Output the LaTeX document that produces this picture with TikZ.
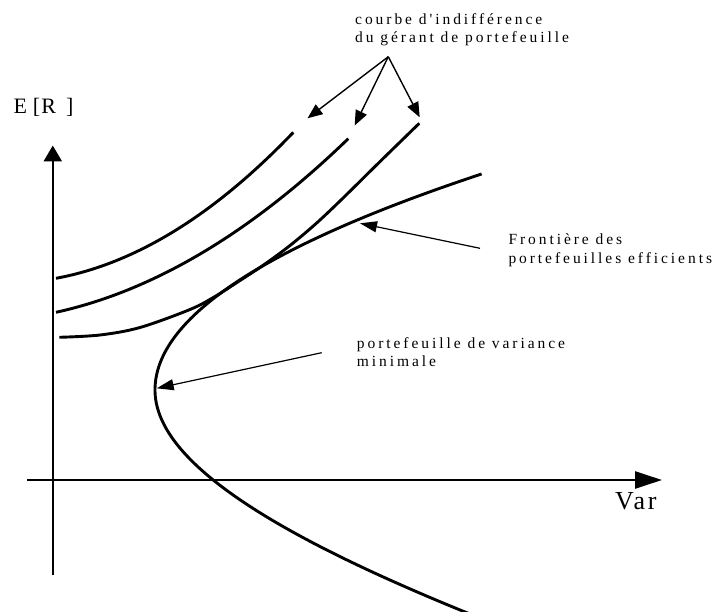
\documentclass[tikz,border=0pt]{standalone}
\usepackage{fontspec}
\setmainfont{Liberation Serif}
\newfontfamily\annfont[LetterSpace=19]{Liberation Serif}
\newfontfamily\varfont[LetterSpace=10]{Liberation Serif}
\usetikzlibrary{arrows.meta}
\tikzset{
  curve/.style={line width=2.9pt, line join=round},
  axisline/.style={line width=2.6pt},
  ann/.style={line width=1.2pt, -{Triangle[length=17pt,width=11pt]}},
  annTop/.style={line width=1.4pt, -{Triangle[length=15pt,width=12pt]}},
  anntext/.style={font=\annfont\fontsize{15.5}{18.7}\selectfont, align=left, inner sep=0pt, anchor=base west},
}
\begin{document}
\begin{tikzpicture}[x=1pt,y=-1pt]
\useasboundingbox (0,0) rectangle (715,612);
% axes
\coordinate (yo) at (52.8,575);
\coordinate (ytip) at (52.8,145.5);
\coordinate (xo) at (27,480);
\coordinate (xtip) at (662,480);
\draw[axisline, -{Triangle[length=16pt,width=18pt]}] (yo) -- (ytip);
\draw[axisline, -{Triangle[length=27pt,width=17pt]}] (xo) -- (xtip);
\node[inner sep=0pt, anchor=base west, font=\fontsize{22}{26}\selectfont] (ylbl) at (13.3,113.3) {E\kern6pt[\kern1.2pt R\kern10pt]};
\node[inner sep=0pt, anchor=base west, font=\varfont\fontsize{26}{30}\selectfont] (xlbl) at (615,509) {Var};
% efficient frontier
\draw[curve] plot[domain=174:390, samples=80, smooth] ({155+70*((390-\x)/100)^2}, \x)
  -- plot[domain=390:614, samples=80, smooth] ({155+78*((\x-390)/100)^2-6.8*((\x-390)/100)^3}, \x);
% indifference curves
\draw[curve] plot[domain=56:293.3, samples=60, smooth] (\x, {278.3-0.184*(\x-56)-18.16*((\x-56)/100)^2});
\draw[curve] plot[domain=56:348.3, samples=60, smooth] (\x, {312.3-0.22*(\x-56)-12.8*((\x-56)/100)^2});
\draw[curve] plot[smooth, tension=0.55] coordinates {(59.3,337.3) (100,335) (140,327.5) (190,309.5) (215,296.5) (240,280.5) (265,264) (290,245.5) (315,224.5) (340,201) (380,161.6) (419.3,123.3)};
% labels (base anchor = baseline of the last line)
\node[anntext] (lblIC) at (355,43) {courbe d'indifférence\\du gérant de portefeuille};
\node[anntext] (lblFront) at (508.3,263.3) {Frontière des\\portefeuilles efficients};
\node[anntext] (lblMin) at (356.7,366.7) {portefeuille de variance\\minimale};
% annotation arrows
\coordinate (fork) at (388.3,56.7);
\coordinate (tipA) at (307.5,118.3);
\coordinate (tipB) at (354.7,125.5);
\coordinate (tipC) at (419.7,117.3);
\draw[annTop] (fork) -- (tipA);
\draw[annTop] (fork) -- (tipB);
\draw[annTop] (fork) -- (tipC);
\coordinate (frontTail) at (480,248.3);
\coordinate (frontTip) at (360,223.3);
\draw[ann] (frontTail) -- (frontTip);
\coordinate (minTail) at (321.7,352.7);
\coordinate (minTip) at (156.7,388.3);
\draw[ann] (minTail) -- (minTip);
\end{tikzpicture}
\end{document}
